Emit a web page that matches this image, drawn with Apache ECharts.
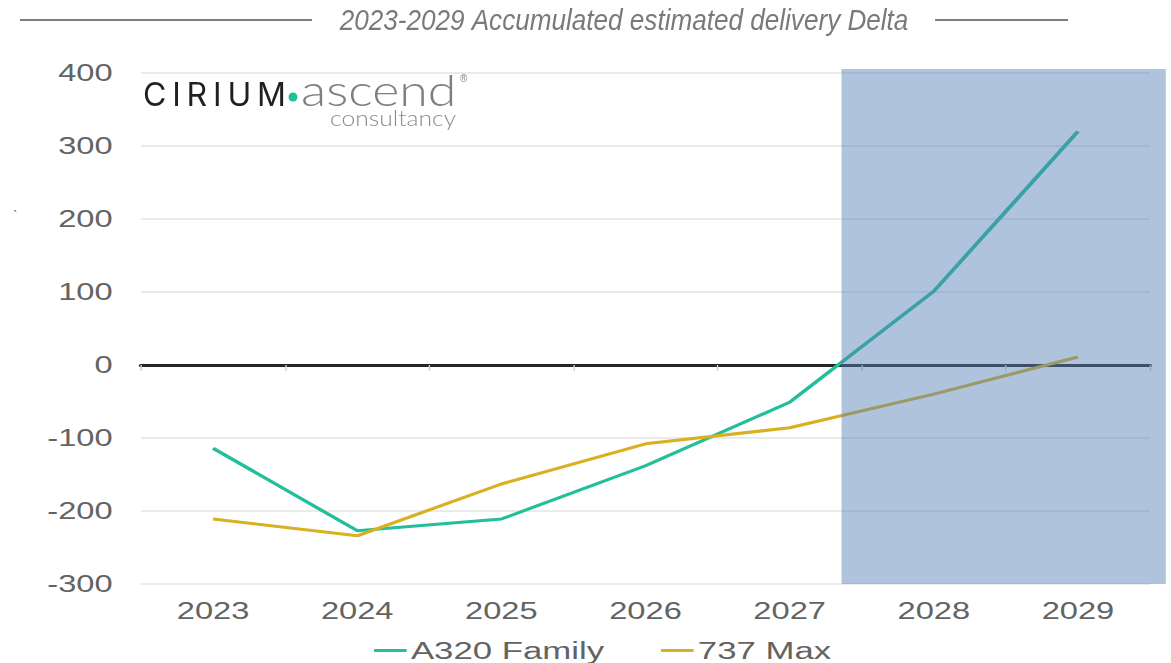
<!DOCTYPE html>
<html>
<head>
<meta charset="utf-8">
<script src="https://cdn.jsdelivr.net/npm/echarts@6/dist/echarts.min.js"></script>
<style>
html,body{margin:0;padding:0;background:#fff;overflow:hidden;}
#wrap{position:relative;width:1171px;height:663px;}
#c{position:absolute;left:0;top:0;width:825px;height:663px;transform-origin:0 0;}
#o{position:absolute;left:0;top:0;width:1171px;height:663px;pointer-events:none;}
</style>
</head>
<body>
<div id="wrap"><div id="c"></div><div id="o"></div></div>
<script>
const categories = ['2023', '2024', '2025', '2026', '2027', '2028', '2029'];
const a320Family = [-114, -227, -211, -138, -51, 101, 320];
const max737 = [-211, -234, -163, -108, -86, -40, 11];
const seriesNames = ['A320 Family', '737 Max'];
const yMin = -300, yMax = 400, yStep = 100;
const shadeX = [4.86, 7.11];      // in category-slot units
const shadeY = [-300, 405.5];
const titleText = '2023-2029 Accumulated estimated delivery Delta';

// the source picture is horizontally stretched; draw narrower then stretch
const PAGE_W = 1171;
const INNER_W = 825;
const SX = PAGE_W / INNER_W;
const cEl = document.getElementById('c');
cEl.style.transform = 'scaleX(' + SX + ')';

const font = '"Liberation Sans", Arial, sans-serif';
const labelColor = '#636363';
const chart = echarts.init(cEl, null, { renderer: 'svg' });
chart.setOption({
  animation: false,
  backgroundColor: '#fff',
  grid: { left: 141 / SX, right: 21 / SX, top: 73, bottom: 79, containLabel: false },
  legend: {
    data: seriesNames,
    top: 638,
    left: 374 / SX,
    padding: 0,
    icon: 'rect',
    itemWidth: 23,
    itemHeight: 3,
    itemGap: 40,
    textStyle: { fontSize: 24.5, color: labelColor, fontFamily: font, padding: [0, 0, 0, -2] }
  },
  xAxis: [
    {
      type: 'category', data: categories, boundaryGap: true, position: 'bottom',
      axisLine: { show: false, onZero: false }, axisTick: { show: false },
      axisLabel: { fontSize: 23, color: labelColor, margin: 15, fontFamily: font },
      splitLine: { show: false }
    },
    {
      type: 'category', data: categories, boundaryGap: true, position: 'bottom',
      axisLine: { show: true, onZero: true, onZeroAxisIndex: 0, lineStyle: { color: '#262626', width: 3 } },
      axisTick: { show: true, length: 6, lineStyle: { color: '#cfcfcf', width: 1 } },
      axisLabel: { show: false }, splitLine: { show: false }
    },
    {
      type: 'value', min: 0, max: categories.length, show: false, position: 'bottom',
      axisLine: { onZero: false }
    }
  ],
  yAxis: {
    type: 'value', min: yMin, max: yMax, interval: yStep,
    axisLine: { show: false }, axisTick: { show: false },
    axisLabel: { fontSize: 23, color: labelColor, margin: 20, fontFamily: font },
    splitLine: { lineStyle: { color: '#e3e3e3', width: 1.5 } }
  },
  series: [
    {
      name: seriesNames[0], type: 'line', data: a320Family, xAxisIndex: 0,
      symbol: 'none', lineStyle: { color: '#22bf9b', width: 3 }, itemStyle: { color: '#22bf9b' }, z: 3
    },
    {
      name: seriesNames[1], type: 'line', data: max737, xAxisIndex: 0,
      symbol: 'none', lineStyle: { color: '#d9b01f', width: 3 }, itemStyle: { color: '#d9b01f' }, z: 3
    }
  ]
});

// shaded forecast band, positioned through the chart's own scales
const p0 = chart.convertToPixel({ xAxisIndex: 2, yAxisIndex: 0 }, [shadeX[0], shadeY[1]]);
const p1 = chart.convertToPixel({ xAxisIndex: 2, yAxisIndex: 0 }, [shadeX[1], shadeY[0]]);
const band = { x: p0[0] * SX, y: p0[1], width: (p1[0] - p0[0]) * SX, height: p1[1] - p0[1] };

const overlay = echarts.init(document.getElementById('o'));
overlay.setOption({
  animation: false,
  backgroundColor: 'transparent',
  graphic: [
    { type: 'rect', shape: band, style: { fill: 'rgba(85,128,181,0.47)' }, silent: true },
    { type: 'line', shape: { x1: 20, y1: 20, x2: 312, y2: 20 }, style: { stroke: '#7f7f7f', lineWidth: 2 } },
    { type: 'line', shape: { x1: 935, y1: 20, x2: 1068, y2: 20 }, style: { stroke: '#7f7f7f', lineWidth: 2 } },
    { type: 'text', x: 624, y: 22, scaleX: 0.9, style: { text: titleText, font: 'italic 29px "Liberation Sans", Arial, sans-serif', fill: '#7a7a7a', textAlign: 'center', textVerticalAlign: 'middle' } },
    { type: 'text', x: 143, y: 96, style: { text: 'C\u2009I\u2009R\u2009I\u2009U\u2009M', font: '400 32px Inter, Lato, sans-serif', fill: '#231f20', textAlign: 'left', textVerticalAlign: 'middle' } },
    { type: 'circle', shape: { cx: 293, cy: 97, r: 4.5 }, style: { fill: '#1fbf9b' } },
    { type: 'text', x: 301, y: 92, scaleX: 1.18, style: { text: 'ascend', font: '300 44px Lato, "Open Sans", sans-serif', fill: '#7f7f7f', textAlign: 'left', textVerticalAlign: 'middle' } },
    { type: 'text', x: 330, y: 119, scaleX: 1.12, style: { text: 'consultancy', font: '300 22px Lato, "Open Sans", sans-serif', fill: '#8c8c8c', textAlign: 'left', textVerticalAlign: 'middle' } },
    { type: 'text', x: 460, y: 79, style: { text: '\u00ae', font: '10px Arial, sans-serif', fill: '#7f7f7f', textAlign: 'left', textVerticalAlign: 'middle' } },
    { type: 'text', x: 13, y: 217, style: { text: '`', font: '14px Arial, sans-serif', fill: '#555', textAlign: 'left', textVerticalAlign: 'middle' } }
  ]
});
</script>
</body>
</html>
